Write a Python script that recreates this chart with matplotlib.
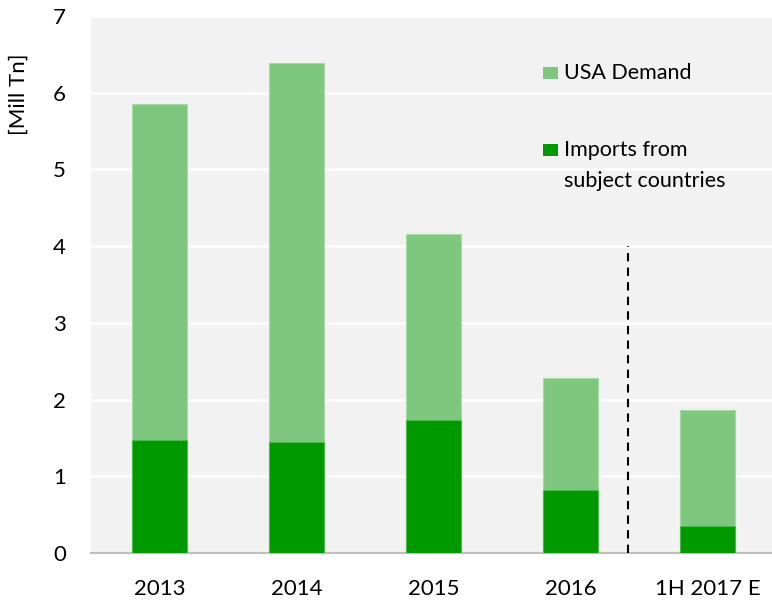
import matplotlib.pyplot as plt
from matplotlib.patches import Rectangle

categories = ['2013', '2014', '2015', '2016', '1H 2017 E']
usa_demand = [5.85, 6.39, 4.16, 2.28, 1.86]
imports_subject = [1.47, 1.45, 1.73, 0.82, 0.35]
divider_x = 3.42
divider_top = 4.0

light_green = '#7fc77f'
dark_green = '#009900'

plt.rcParams['font.family'] = ['Lato', 'DejaVu Sans']

fig = plt.figure(figsize=(7.72, 6.02), dpi=100)
ax = fig.add_axes([91 / 772, 49 / 602, 681 / 772, 537 / 602])
ax.set_facecolor('#f2f2f2')

x = range(len(categories))
ax.bar(x, usa_demand, width=0.4, color=light_green, edgecolor='#a6daa6', linewidth=0.8, zorder=2)
ax.bar(x, imports_subject, width=0.4, color=dark_green, edgecolor='#4db84d', linewidth=0.8, zorder=3)

ax.plot([divider_x, divider_x], [0, divider_top], color='black', linestyle=(0, (4, 3)), linewidth=1.5, zorder=4)

ax.set_xlim(-0.5, 4.47)
ax.set_ylim(0, 7)
ax.set_yticks(range(8))
ax.set_xticks(list(x))
ax.set_xticklabels(categories)
ax.yaxis.grid(True, color='white', linewidth=1.8, zorder=1)
ax.set_axisbelow(True)
ax.tick_params(axis='both', length=0, labelsize=16)
ax.tick_params(axis='x', pad=19)
ax.tick_params(axis='y', pad=18)
for s in ['top', 'right', 'left']:
    ax.spines[s].set_visible(False)
ax.spines['bottom'].set_color('#bfbfbf')
ax.spines['bottom'].set_linewidth(1.5)

fig.text(19 / 772, 1 - 94 / 602, '[Mill Tn]', rotation=90, ha='center', va='center', fontsize=16)

# legend
ax.add_patch(Rectangle((0.664, 0.883), 0.022, 0.0224, transform=ax.transAxes,
                       facecolor=light_green, edgecolor='none', clip_on=False))
ax.add_patch(Rectangle((0.664, 0.739), 0.022, 0.0224, transform=ax.transAxes,
                       facecolor=dark_green, edgecolor='none', clip_on=False))
ax.text(0.695, 0.894, 'USA Demand', transform=ax.transAxes, va='center', fontsize=15.5)
ax.text(0.695, 0.750, 'Imports from', transform=ax.transAxes, va='center', fontsize=15.5)
ax.text(0.695, 0.692, 'subject countries', transform=ax.transAxes, va='center', fontsize=15.5)

fig.savefig('out.png', dpi=100)
